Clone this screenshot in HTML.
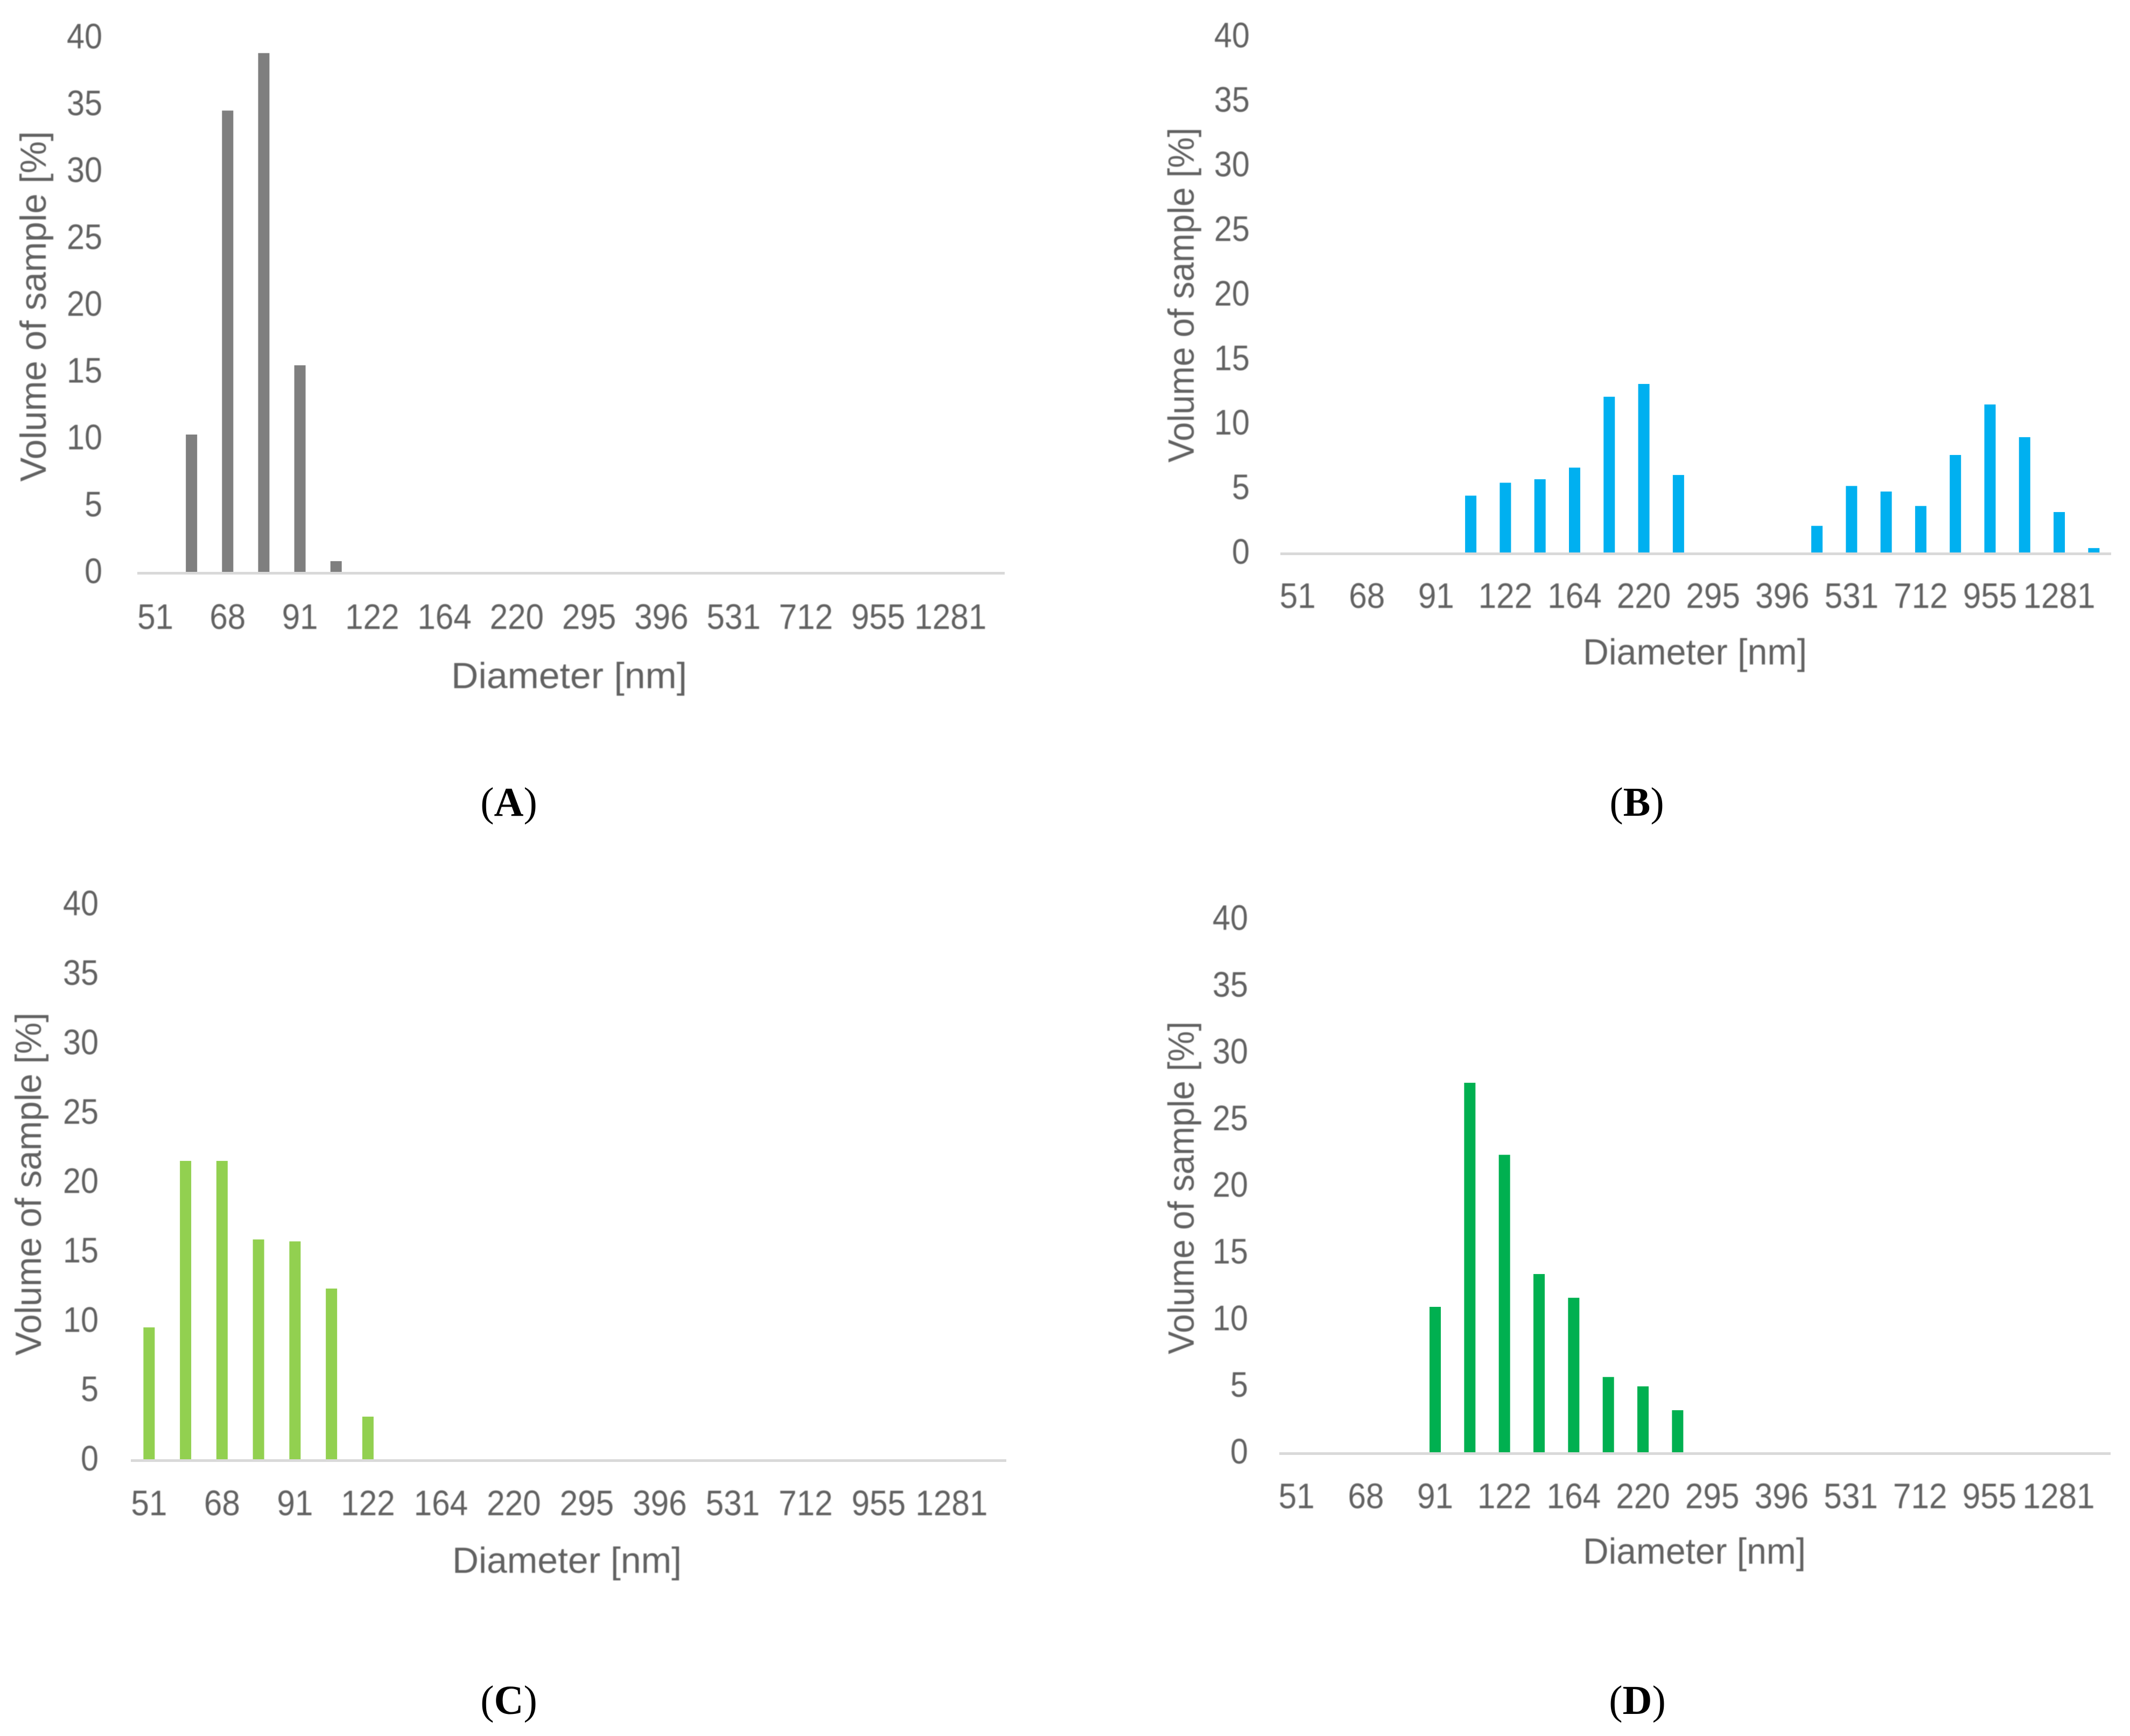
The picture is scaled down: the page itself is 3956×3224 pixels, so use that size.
<!DOCTYPE html>
<html lang="en">
<head>
<meta charset="utf-8">
<title>Particle size distributions</title>
<style>
html,body{margin:0;padding:0;background:#fff;}
svg{display:block;}
text{font-family:"Liberation Sans",sans-serif;fill:#626262;}
.tick{font-size:66px;filter:blur(0.9px);}
.title{font-size:68px;filter:blur(0.9px);}
.panel{font-family:"Liberation Serif",serif;font-size:76px;fill:#000;}
</style>
</head>
<body>
<svg id="fig" xmlns="http://www.w3.org/2000/svg" width="3956" height="3224" viewBox="0 0 3956 3224">
<rect x="0" y="0" width="3956" height="3224" fill="#fff"/>
</svg>
<script>
const categories = [51,59,68,79,91,106,122,142,164,190,220,255,295,342,396,459,531,615,712,825,955,1106,1281,1484];
const yTicks = [0,5,10,15,20,25,30,35,40];
const valuesA = [0,10.27,34.5,38.8,15.45,0.8,0,0,0,0,0,0,0,0,0,0,0,0,0,0,0,0,0,0];
const valuesB = [0,0,0,0,0,4.4,5.4,5.67,6.57,12.06,13.05,6.0,0,0,0,2.06,5.15,4.72,3.6,7.55,11.46,8.93,3.13,0.34];
const valuesC = [9.5,21.5,21.5,15.84,15.7,12.3,3.07,0,0,0,0,0,0,0,0,0,0,0,0,0,0,0,0,0];
const valuesD = [0,0,0,0,10.9,27.7,22.3,13.36,11.58,5.64,4.94,3.15,0,0,0,0,0,0,0,0,0,0,0,0];

const NS = 'http://www.w3.org/2000/svg';
const fig = document.getElementById('fig');

function make(tag, attrs, parent, content) {
  const el = document.createElementNS(NS, tag);
  Object.keys(attrs).forEach(function (k) { el.setAttribute(k, attrs[k]); });
  if (content !== undefined) el.textContent = content;
  parent.appendChild(el);
  return el;
}

function drawChart(id, values, color, g) {
  const group = make('g', {}, fig);
  
  

  const band = (g.right - g.left) / categories.length;
  const xScale = function (i) { return g.left + band * (i + 0.5); };
  const yScale = function (v) { return g.base - v * g.unit; };

  // x axis line
  const axis = make('rect', { x: g.left, y: g.base, width: g.right - g.left, height: 5, fill: '#d9d9d9' }, group);
  
  

  // y tick labels
  yTicks.forEach(function (t) {
    const label = make('text', { class: 'tick', x: g.yLabelRight, y: yScale(t) + 21, 'text-anchor': 'end', textLength: String(t).length * 33, lengthAdjust: 'spacingAndGlyphs' }, group, String(t));
    
    
  });

  // x tick labels (every second category is labelled)
  categories.forEach(function (c, i) {
    if (i % 2 !== 0) return;
    const label = make('text', { class: 'tick', x: xScale(i), y: g.xLabelY + 21, 'text-anchor': 'middle', textLength: String(c).length * 33.5, lengthAdjust: 'spacingAndGlyphs' }, group, String(c));
    
    
  });

  // bars
  values.forEach(function (v, i) {
    const bar = make('rect', { x: xScale(i) - 10.5, y: yScale(v), width: 21, height: v * g.unit, fill: color }, group);
    
    
  });

  // axis titles
  const xTitle = make('text', { class: 'title', x: g.xTitleX, y: g.xTitleY + 22, 'text-anchor': 'middle', textLength: g.xTitleLen, lengthAdjust: 'spacingAndGlyphs' }, group, 'Diameter [nm]');
  
  

  const yTitle = make('text', { class: 'title', x: 0, y: 0, 'text-anchor': 'middle', textLength: g.yTitleLen, lengthAdjust: 'spacingAndGlyphs', transform: 'translate(' + (g.yTitleX + 22) + ' ' + g.yTitleY + ') rotate(-90)' }, group, 'Volume of sample [%]');
  
  

  // panel letter
  const panel = make('text', { class: 'panel', x: g.panelX, y: g.panelY + 25, 'text-anchor': 'middle' }, group);
  make('tspan', {}, panel, '(');
  make('tspan', { 'font-weight': 'bold' }, panel, id);
  make('tspan', {}, panel, ')');
  
  
}

drawChart('A', valuesA, '#7f7f7f', { left: 255, right: 1866, base: 1062, unit: 24.83, yLabelRight: 190, xLabelY: 1147, xTitleX: 1057, xTitleY: 1256, xTitleLen: 438, yTitleX: 63, yTitleY: 569, yTitleLen: 651, panelX: 945, panelY: 1490 });
drawChart('B', valuesB, '#00b0f0', { left: 2378, right: 3921, base: 1026, unit: 23.98, yLabelRight: 2321, xLabelY: 1108, xTitleX: 3148, xTitleY: 1212, xTitleLen: 416, yTitleX: 2195, yTitleY: 548, yTitleLen: 622, panelX: 3040, panelY: 1490 });
drawChart('C', valuesC, '#92d050', { left: 243, right: 1869, base: 2710, unit: 25.77, yLabelRight: 183, xLabelY: 2793, xTitleX: 1053, xTitleY: 2899, xTitleLen: 426, yTitleX: 54, yTitleY: 2199, yTitleLen: 637, panelX: 945, panelY: 3158 });
drawChart('D', valuesD, '#00b050', { left: 2376, right: 3920, base: 2697, unit: 24.77, yLabelRight: 2318, xLabelY: 2780, xTitleX: 3147, xTitleY: 2882, xTitleLen: 414, yTitleX: 2195, yTitleY: 2206, yTitleLen: 618, panelX: 3041, panelY: 3158 });
</script>
</body>
</html>
